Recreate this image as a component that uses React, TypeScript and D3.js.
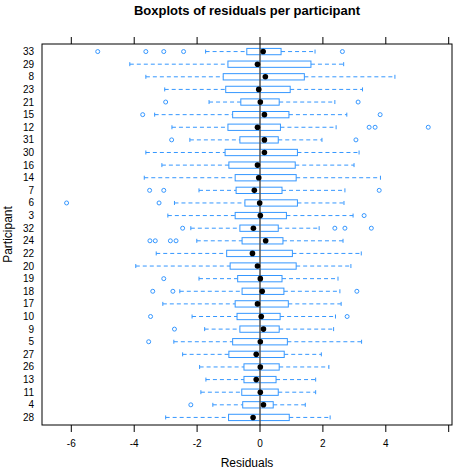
import * as d3 from "d3";

const W = 457;
const H = 471;

// participants, top to bottom
const participants = [
  "33", "29", "8", "23", "21", "15", "12", "31", "30", "16",
  "14", "7", "6", "3", "32", "24", "22", "20", "19", "18",
  "17", "10", "9", "5", "27", "26", "13", "11", "4", "28",
];

const whiskerLow = [
  -1.73, -4.14, -3.63, -3.03, -1.62, -3.35, -2.8, -2.23, -3.63, -3.12,
  -3.68, -1.94, -2.72, -2.93, -2.2, -2.01, -3.3, -3.95, -1.94, -2.55,
  -3.09, -2.16, -1.76, -2.74, -2.46, -1.92, -1.72, -1.88, -1.5, -3.0,
];
const q1 = [
  -0.42, -1.02, -1.17, -1.09, -0.61, -0.87, -1.02, -0.64, -1.11, -0.99,
  -0.79, -0.76, -0.48, -0.79, -0.64, -0.57, -1.06, -0.95, -0.71, -0.57,
  -0.79, -0.73, -0.64, -0.87, -0.99, -0.51, -0.51, -0.58, -0.55, -1.0,
];
const median = [
  0.1, -0.08, 0.17, -0.04, 0.01, 0.14, -0.08, 0.14, 0.14, -0.08,
  -0.04, -0.18, -0.01, 0.01, -0.21, 0.18, -0.24, -0.08, 0.01, 0.07,
  -0.08, 0.04, 0.11, 0.01, -0.12, 0.01, -0.12, 0.01, 0.11, -0.22,
];
const q3 = [
  0.67, 1.62, 1.41, 0.96, 0.61, 0.92, 0.65, 0.58, 1.19, 1.12,
  1.15, 0.7, 1.19, 0.84, 0.58, 0.73, 1.03, 1.15, 0.7, 0.76,
  0.9, 0.64, 0.61, 0.87, 0.77, 0.61, 0.51, 0.58, 0.42, 0.93,
];
const whiskerHigh = [
  1.75, 2.66, 4.29, 3.26, 2.38, 2.76, 2.42, 1.97, 3.15, 2.99,
  3.83, 2.7, 2.67, 2.96, 1.88, 2.64, 3.22, 2.89, 2.48, 2.54,
  2.58, 2.4, 2.34, 3.23, 1.95, 2.19, 1.77, 1.77, 1.44, 2.23,
];
const outliers: number[][] = [
  [-5.16, -3.63, -3.06, -2.43, 2.62],
  [],
  [],
  [],
  [-3.0, 3.12],
  [-3.73, 3.82],
  [3.47, 3.66, 5.35],
  [-2.81, 3.05],
  [],
  [],
  [],
  [-3.51, -3.06, 3.79],
  [-6.15, -3.21],
  [3.31],
  [-2.46, 2.38, 2.7, 3.54],
  [-3.5, -3.33, -2.85, -2.67],
  [],
  [],
  [-3.06],
  [-3.41, -2.77, 3.08],
  [],
  [-3.48, 2.77],
  [-2.72],
  [-3.54],
  [],
  [],
  [],
  [],
  [-2.2],
  [],
];

const xTicks = [-6, -4, -2, 0, 2, 4, 6];
const xTickLabels = ["-6", "-4", "-2", "0", "2", "4", ""];

const BLUE = "#3597ff";
const FONT = "'Liberation Sans', Arial, sans-serif";

export default function App() {
  const panel = { left: 42, right: 452, top: 44, bottom: 425 };

  const x = d3.scaleLinear().domain([-6.932, 6.105]).range([panel.left, panel.right]);
  const y = d3
    .scalePoint<string>()
    .domain(participants)
    .range([panel.top, panel.bottom])
    .padding(0.6);

  const boxH = y.step() * 0.5;
  const capH = 4;

  return (
    <svg
      width={W}
      height={H}
      viewBox={`0 0 ${W} ${H}`}
      style={{ position: "absolute", left: 0, top: 0, background: "#fff" }}
      fontFamily={FONT}
    >
      <rect width={W} height={H} fill="#fff" />
      {/* title */}
      <text x={247} y={15} textAnchor="middle" fontSize={13} fontWeight="bold">
        Boxplots of residuals per participant
      </text>

      {/* boxes */}
      {participants.map((p, i) => {
        const cy = y(p) ?? 0;
        return (
          <g key={p}>
            <line
              x1={x(whiskerLow[i])}
              x2={x(q1[i])}
              y1={cy}
              y2={cy}
              stroke={BLUE}
              strokeDasharray="4,3"
            />
            <line
              x1={x(q3[i])}
              x2={x(whiskerHigh[i])}
              y1={cy}
              y2={cy}
              stroke={BLUE}
              strokeDasharray="4,3"
            />
            <line
              x1={x(whiskerLow[i])}
              x2={x(whiskerLow[i])}
              y1={cy - capH / 2}
              y2={cy + capH / 2}
              stroke={BLUE}
            />
            <line
              x1={x(whiskerHigh[i])}
              x2={x(whiskerHigh[i])}
              y1={cy - capH / 2}
              y2={cy + capH / 2}
              stroke={BLUE}
            />
            <rect
              x={x(q1[i])}
              y={cy - boxH / 2}
              width={x(q3[i]) - x(q1[i])}
              height={boxH}
              fill="none"
              stroke={BLUE}
            />
            {outliers[i].map((o, j) => (
              <circle key={j} cx={x(o)} cy={cy} r={2} fill="none" stroke={BLUE} />
            ))}
          </g>
        );
      })}

      {/* reference line at zero */}
      <line
        x1={x(0)}
        x2={x(0)}
        y1={panel.top}
        y2={panel.bottom}
        stroke="#555"
        strokeWidth={1.5}
      />

      {/* medians */}
      {participants.map((p, i) => (
        <circle key={p} cx={x(median[i])} cy={y(p) ?? 0} r={2.8} fill="#000" />
      ))}

      {/* panel border */}
      <rect
        x={panel.left}
        y={panel.top}
        width={panel.right - panel.left}
        height={panel.bottom - panel.top}
        fill="none"
        stroke="#000"
      />

      {/* x ticks, top and bottom */}
      {xTicks.map((t, i) => (
        <g key={t}>
          <line x1={x(t)} x2={x(t)} y1={panel.top} y2={panel.top - 7} stroke="#000" />
          <line x1={x(t)} x2={x(t)} y1={panel.bottom} y2={panel.bottom + 7} stroke="#000" />
          <text x={x(t)} y={447} textAnchor="middle" fontSize={10}>
            {xTickLabels[i]}
          </text>
        </g>
      ))}

      {/* y labels */}
      {participants.map((p) => (
        <text
          key={p}
          x={34}
          y={y(p) ?? 0}
          dy="0.35em"
          textAnchor="end"
          fontSize={10}
        >
          {p}
        </text>
      ))}

      {/* axis titles */}
      <text x={247} y={467} textAnchor="middle" fontSize={12}>
        Residuals
      </text>
      <text
        transform={`translate(12, ${(panel.top + panel.bottom) / 2}) rotate(-90)`}
        textAnchor="middle"
        fontSize={12}
      >
        Participant
      </text>
    </svg>
  );
}
